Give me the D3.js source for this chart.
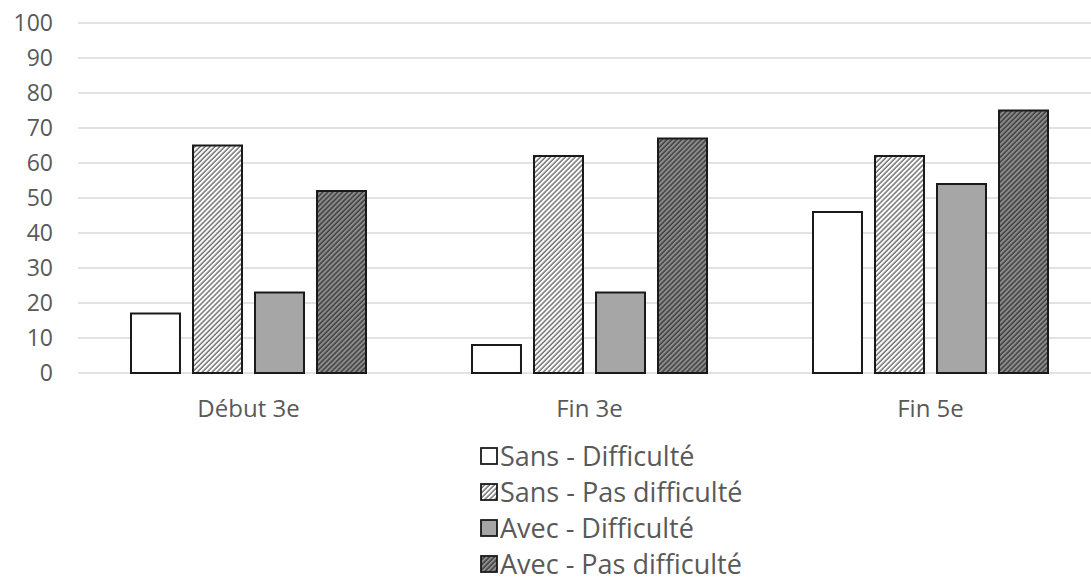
<!DOCTYPE html>
<html>
<head>
<meta charset="utf-8">
<script src="https://cdn.jsdelivr.net/npm/d3@7"></script>
<style>
  body { margin: 0; background: #fff; }
  text { font-family: "Open Sans", "Noto Sans", sans-serif; fill: #595959; }
</style>
</head>
<body>
<div id="chart"></div>
<script>
var width = 1091, height = 583;

var groups = ["Début 3e", "Fin 3e", "Fin 5e"];
var series = ["Sans - Difficulté", "Sans - Pas difficulté", "Avec - Difficulté", "Avec - Pas difficulté"];
var sansDiff = [17, 8, 46];
var sansPasDiff = [65, 62, 62];
var avecDiff = [23, 23, 54];
var avecPasDiff = [52, 67, 75];
var yTicks = [0, 10, 20, 30, 40, 50, 60, 70, 80, 90, 100];

var values = [sansDiff, sansPasDiff, avecDiff, avecPasDiff];
var fills = ["#ffffff", "url(#hatchLight)", "#a6a6a6", "url(#hatchDark)"];

var svg = d3.select("#chart").append("svg")
    .attr("width", width)
    .attr("height", height);

// hatch patterns (diagonal ///)
var defs = svg.append("defs");
var mkHatch = (id, bg, fg) => {
  var p = defs.append("pattern")
      .attr("id", id)
      .attr("patternUnits", "userSpaceOnUse")
      .attr("width", 3.5).attr("height", 3.5)
      .attr("patternTransform", "rotate(45)");
  p.append("rect").attr("width", 3.5).attr("height", 3.5).attr("fill", bg);
  p.append("line").attr("x1", 1).attr("y1", 0).attr("x2", 1).attr("y2", 3.5)
      .attr("stroke", fg).attr("stroke-width", 1.4);
};
mkHatch("hatchLight", "#ffffff", "#6a6a6a");
mkHatch("hatchDark", "#8c8c8c", "#3a3a3a");

var x0 = d3.scaleBand().domain(groups).range([78, 1101]).padding(0);
var x1 = d3.scaleBand().domain(d3.range(series.length))
    .range([53, x0.bandwidth() - 53]).paddingInner(0.21).paddingOuter(0);
var y = d3.scaleLinear().domain([0, 100]).range([373, 23]);

// gridlines
svg.append("g").selectAll("line")
  .data(yTicks)
  .join("line")
    .attr("x1", 78).attr("x2", width)
    .attr("y1", d => y(d)).attr("y2", d => y(d))
    .attr("stroke", "#d9d9d9").attr("stroke-width", 1.5);

// y labels
svg.append("g").selectAll("text")
  .data(yTicks)
  .join("text")
    .attr("x", 53).attr("y", d => y(d))
    .attr("dy", "0.36em")
    .attr("text-anchor", "end")
    .style("font-size", "23px")
    .text(d => d);

// bars
var g = svg.append("g").selectAll("g")
  .data(groups)
  .join("g")
    .attr("transform", d => `translate(${x0(d)},0)`);

g.selectAll("rect")
  .data((d, gi) => values.map((s, si) => ({si: si, v: s[gi]})))
  .join("rect")
    .attr("x", d => x1(d.si))
    .attr("y", d => y(d.v))
    .attr("width", x1.bandwidth())
    .attr("height", d => y(0) - y(d.v))
    .attr("fill", d => fills[d.si])
    .attr("stroke", "#1a1a1a")
    .attr("stroke-width", 2);

// x labels
svg.append("g").selectAll("text")
  .data(groups)
  .join("text")
    .attr("x", d => x0(d) + x0.bandwidth() / 2)
    .attr("y", 417)
    .attr("text-anchor", "middle")
    .style("font-size", "24px")
    .text(d => d);

// legend
var leg = svg.append("g").selectAll("g")
  .data(series)
  .join("g")
    .attr("transform", (d, i) => `translate(481,${456 + i * 36})`);

leg.append("rect")
    .attr("x", 0).attr("y", -8)
    .attr("width", 16).attr("height", 16)
    .attr("fill", (d, i) => fills[i])
    .attr("stroke", "#1a1a1a")
    .attr("stroke-width", 1.8);

leg.append("text")
    .attr("x", 19).attr("y", 0)
    .attr("dy", "0.36em")
    .style("font-size", "27px")
    .text(d => d);
</script>
</body>
</html>
